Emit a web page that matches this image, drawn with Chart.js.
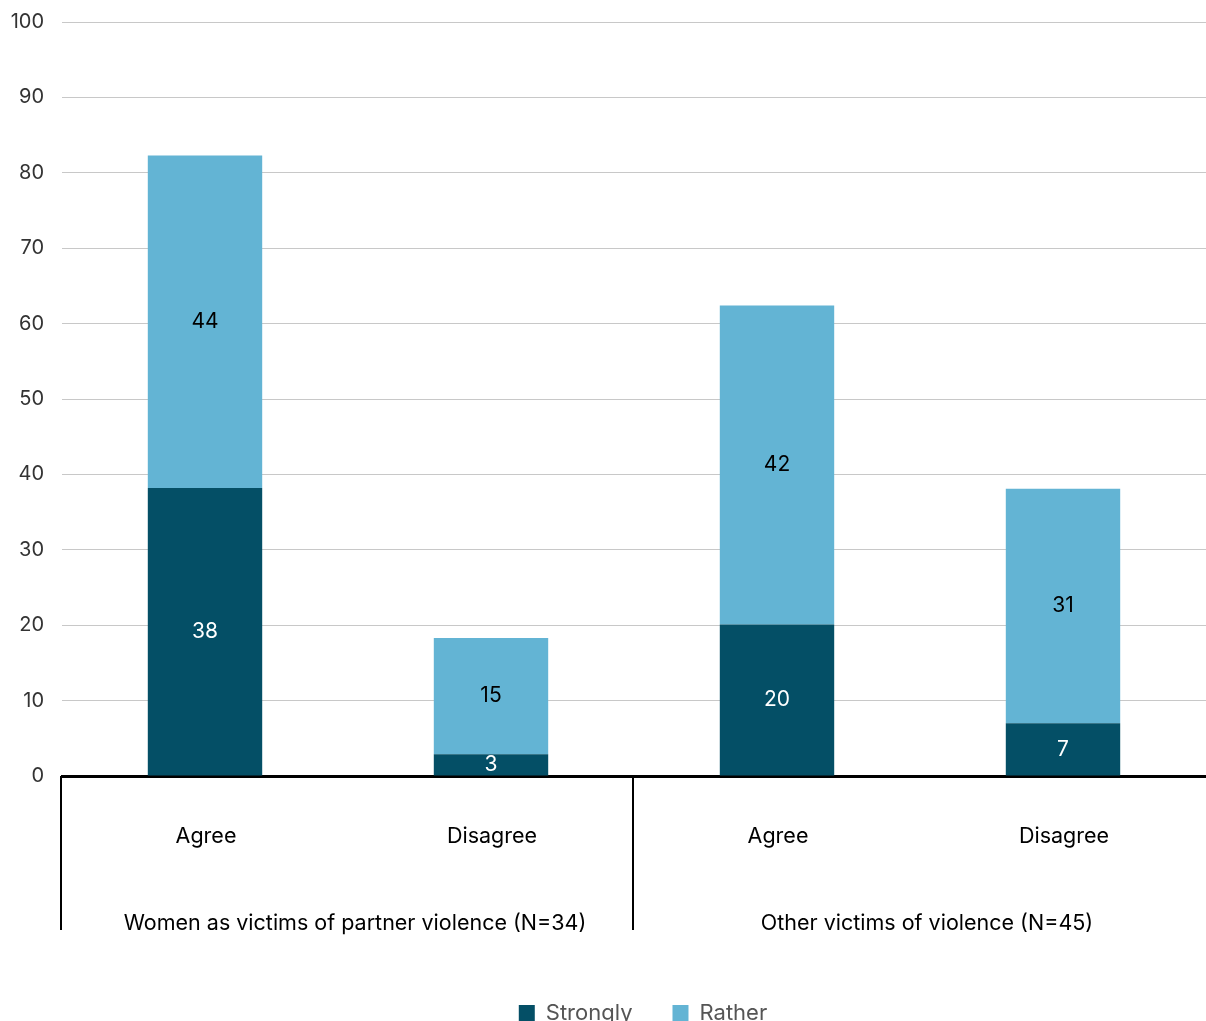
<!DOCTYPE html>
<html>
<head>
<meta charset="utf-8">
<script src="https://cdn.jsdelivr.net/npm/chart.js@4/dist/chart.umd.min.js"></script>
<style>
html,body{margin:0;padding:0;overflow:hidden;background:#fff;}
#wrap{width:1206px;height:1034px;position:relative;}
</style>
</head>
<body>
<div id="wrap"><canvas id="c"></canvas></div>
<script>
const categories = ['Agree', 'Disagree', 'Agree', 'Disagree'];
const groups = ['Women as victims of partner violence (N=34)', 'Other victims of violence (N=45)'];
const strongly = [38.2, 2.9, 20.1, 7.0];
const rather = [44.1, 15.4, 42.3, 31.1];
const seriesNames = ['Strongly', 'Rather'];
const yTicks = [0, 10, 20, 30, 40, 50, 60, 70, 80, 90, 100];

const FONT = 'Inter';
const dark = '#044f66';
const light = '#63b4d4';

const valueLabels = {
  id: 'valueLabels',
  afterDatasetsDraw(chart) {
    const ctx = chart.ctx;
    ctx.save();
    ctx.font = '21px ' + FONT;
    ctx.textAlign = 'center';
    ctx.textBaseline = 'middle';
    chart.data.datasets.forEach((ds, di) => {
      const meta = chart.getDatasetMeta(di);
      meta.data.forEach((el, i) => {
        const p = el.getCenterPoint();
        ctx.fillStyle = di === 0 ? '#ffffff' : '#000000';
        ctx.fillText(String(Math.round(ds.data[i])), p.x, p.y);
      });
    });
    ctx.restore();
  }
};

const separators = {
  id: 'separators',
  afterDraw(chart) {
    const ctx = chart.ctx;
    const x = chart.scales.x;
    const x2 = chart.scales.x2;
    const area = chart.chartArea;
    const xs = [area.left - 1, (x.getPixelForValue(1) + x.getPixelForValue(2)) / 2 - 1];
    ctx.save();
    ctx.strokeStyle = '#000';
    ctx.lineWidth = 2;
    xs.forEach(px => {
      ctx.beginPath();
      ctx.moveTo(px, area.bottom);
      ctx.lineTo(px, x2.top + 74);
      ctx.stroke();
    });
    ctx.restore();
  }
};

const legendShift = {
  id: 'legendShift',
  afterLayout(chart) {
    if (chart.legend) {
      chart.legend.left += 40;
      chart.legend.right += 40;
    }
  }
};

new Chart(document.getElementById('c'), {
  type: 'bar',
  data: {
    labels: categories,
    datasets: [
      { label: seriesNames[0], data: strongly, backgroundColor: dark, barPercentage: 0.4, categoryPercentage: 1.0 },
      { label: seriesNames[1], data: rather, backgroundColor: light, barPercentage: 0.4, categoryPercentage: 1.0 }
    ]
  },
  options: {
    responsive: true,
    maintainAspectRatio: false,
    animation: false,
    layout: { padding: { top: 0, right: 0, left: 0, bottom: 0 } },
    plugins: {
      legend: {
        position: 'bottom',
        labels: {
          font: { family: FONT, size: 22 },
          color: '#555',
          boxWidth: 16,
          boxHeight: 16,
          padding: 40,
          useBorderRadius: false
        }
      },
      tooltip: { enabled: false }
    },
    scales: {
      x: {
        stacked: true,
        grid: { display: false },
        border: { display: true, color: '#000', width: 3 },
        ticks: { font: { family: FONT, size: 21.5 }, color: '#000', padding: 40, maxRotation: 0, labelOffset: 1 },
        afterFit(s) { s.height = 80; }
      },
      x2: {
        type: 'category',
        labels: groups,
        position: 'bottom',
        offset: true,
        grid: { display: false },
        border: { display: false },
        ticks: { font: { family: FONT, size: 21.5 }, color: '#000', padding: 47, maxRotation: 0, labelOffset: 7 },
        afterFit(s) { s.height = 106; }
      },
      y: {
        stacked: true,
        min: 0,
        max: 100,
        afterBuildTicks(scale) { scale.ticks = yTicks.map(v => ({ value: v })); },
        grid: { color: '#c8c8c8', lineWidth: 1, drawTicks: false },
        border: { display: false },
        ticks: { font: { family: FONT, size: 20 }, color: '#333', padding: 18 },
        afterFit(s) { s.width = 62; s.paddingTop = 22; s.paddingBottom = 0; }
      }
    }
  },
  plugins: [valueLabels, separators, legendShift]
});
</script>
</body>
</html>
